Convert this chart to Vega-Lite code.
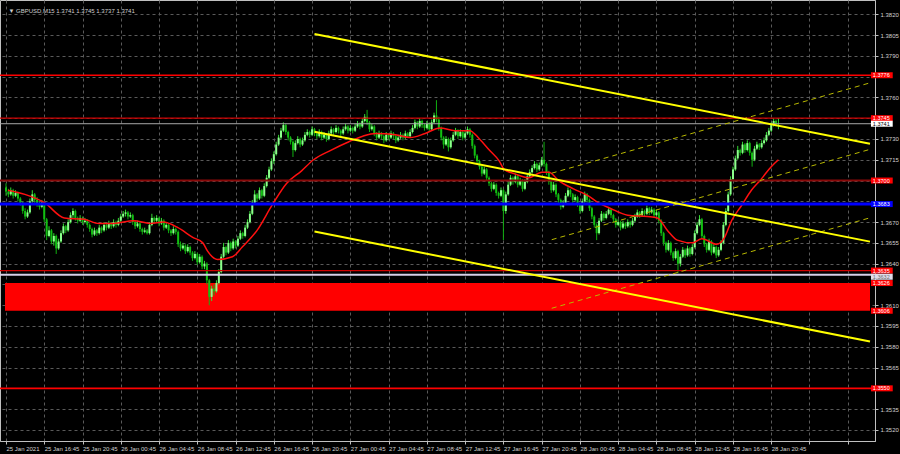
{
 "$schema": "https://vega.github.io/schema/vega-lite/v6.json",
 "width": 875,
 "height": 441,
 "autosize": {"type": "none"},
 "padding": {"left": 0, "top": 0, "right": 25, "bottom": 13},
 "background": "#000000",
 "config": {
  "view": {"stroke": "#c0c0c0", "strokeWidth": 1},
  "axis": {"title": null, "labelFont": "Liberation Sans", "labelFontSize": 6, "labelColor": "#d0d0d0", "gridColor": "#5a5a5a", "gridDash": [3, 3], "gridWidth": 1, "domainColor": "#c0c0c0", "tickColor": "#c0c0c0", "tickSize": 3, "labelOverlap": false, "labelBound": false, "labelFlush": false}
 },
 "datasets": {
  "zone": [{"lo": 1.3606, "hi": 1.3626}],
  "levels": [
   {"p": 1.3776, "k": "red"},
   {"p": 1.3745, "k": "red2"},
   {"p": 1.3741, "k": "price"},
   {"p": 1.3700, "k": "dark"},
   {"p": 1.3683, "k": "blue"},
   {"p": 1.3635, "k": "red2"},
   {"p": 1.3632, "k": "white"},
   {"p": 1.3550, "k": "red"}
  ],
  "tags": [
   {"p": 1.3776, "t": "1.3776", "k": "red"},
   {"p": 1.3745, "t": "1.3745", "k": "red"},
   {"p": 1.3741, "t": "1.3741", "k": "price"},
   {"p": 1.3700, "t": "1.3700", "k": "red"},
   {"p": 1.3683, "t": "1.3683", "k": "blue"},
   {"p": 1.3635, "t": "1.3635", "k": "red"},
   {"p": 1.3632, "t": "1.3632", "k": "white"},
   {"p": 1.3626, "t": "1.3626", "k": "red"},
   {"p": 1.3606, "t": "1.3606", "k": "red"},
   {"p": 1.3550, "t": "1.3550", "k": "red"}
  ],
  "channel": [
   {"g": "a", "i": 129, "p": 1.38058}, {"g": "a", "i": 361.3, "p": 1.37265},
   {"g": "b", "i": 129, "p": 1.37352}, {"g": "b", "i": 361.3, "p": 1.36559},
   {"g": "c", "i": 129, "p": 1.36632}, {"g": "c", "i": 361.3, "p": 1.35838}
  ],
  "dashed": [
   {"g": "d", "i": 228.2, "p": 1.37053}, {"g": "d", "i": 361.3, "p": 1.37705},
   {"g": "e", "i": 228.2, "p": 1.36573}, {"g": "e", "i": 361.3, "p": 1.37225},
   {"g": "f", "i": 228.2, "p": 1.36078}, {"g": "f", "i": 361.3, "p": 1.36731}
  ],
  "ma": [
   {"i": 0.8, "m": 1.3693}, {"i": 7.9, "m": 1.3690}, {"i": 16.1, "m": 1.3684}, {"i": 24.4, "m": 1.3673},
   {"i": 32.7, "m": 1.3672}, {"i": 38.9, "m": 1.3669}, {"i": 45.1, "m": 1.3669}, {"i": 53.3, "m": 1.3671},
   {"i": 60.4, "m": 1.3669}, {"i": 65.7, "m": 1.3670}, {"i": 71.9, "m": 1.3666}, {"i": 78.1, "m": 1.3659},
   {"i": 82.3, "m": 1.3655}, {"i": 84.3, "m": 1.3649}, {"i": 88.5, "m": 1.3643}, {"i": 94.7, "m": 1.3645},
   {"i": 98.8, "m": 1.3652}, {"i": 105.0, "m": 1.3664}, {"i": 111.2, "m": 1.3682}, {"i": 117.4, "m": 1.3698},
   {"i": 123.6, "m": 1.3707}, {"i": 128.6, "m": 1.3715}, {"i": 136.0, "m": 1.3722}, {"i": 143.4, "m": 1.3728},
   {"i": 149.2, "m": 1.3732}, {"i": 154.6, "m": 1.3734}, {"i": 162.9, "m": 1.3733}, {"i": 169.1, "m": 1.3731},
   {"i": 175.3, "m": 1.3734}, {"i": 181.5, "m": 1.3738}, {"i": 187.7, "m": 1.3736}, {"i": 193.9, "m": 1.3736},
   {"i": 198.0, "m": 1.3730}, {"i": 202.1, "m": 1.3722}, {"i": 206.3, "m": 1.3714}, {"i": 208.3, "m": 1.3708},
   {"i": 212.5, "m": 1.3705}, {"i": 218.7, "m": 1.3702}, {"i": 224.1, "m": 1.3706}, {"i": 227.0, "m": 1.3706},
   {"i": 231.1, "m": 1.3700}, {"i": 237.3, "m": 1.3694}, {"i": 243.5, "m": 1.3689}, {"i": 247.6, "m": 1.3684},
   {"i": 252.6, "m": 1.3680}, {"i": 260.0, "m": 1.3675}, {"i": 268.3, "m": 1.3674}, {"i": 272.4, "m": 1.3673},
   {"i": 276.6, "m": 1.3664}, {"i": 280.7, "m": 1.3657}, {"i": 286.9, "m": 1.3655}, {"i": 291.0, "m": 1.3658},
   {"i": 297.2, "m": 1.3654}, {"i": 300.5, "m": 1.3659}, {"i": 303.4, "m": 1.3671}, {"i": 307.6, "m": 1.3682},
   {"i": 311.7, "m": 1.3693}, {"i": 315.8, "m": 1.3701}, {"i": 320.0, "m": 1.3710}, {"i": 323.0, "m": 1.3715}
  ],
  "bars": [
   {"i":0,"o":1.3695,"h":1.3698,"l":1.3689,"c":1.3692},
   {"i":1,"o":1.3692,"h":1.3694,"l":1.3688,"c":1.3690},
   {"i":2,"o":1.3690,"h":1.3695,"l":1.3689,"c":1.3693},
   {"i":3,"o":1.3693,"h":1.3694,"l":1.3687,"c":1.3689},
   {"i":4,"o":1.3689,"h":1.3693,"l":1.3688,"c":1.3691},
   {"i":5,"o":1.3691,"h":1.3692,"l":1.3685,"c":1.3687},
   {"i":6,"o":1.3687,"h":1.3688,"l":1.3682,"c":1.3684},
   {"i":7,"o":1.3684,"h":1.3685,"l":1.3676,"c":1.3678},
   {"i":8,"o":1.3678,"h":1.3680,"l":1.3672,"c":1.3674},
   {"i":9,"o":1.3674,"h":1.3679,"l":1.3673,"c":1.3677},
   {"i":10,"o":1.3677,"h":1.3687,"l":1.3676,"c":1.3685},
   {"i":11,"o":1.3685,"h":1.3693,"l":1.3684,"c":1.3690},
   {"i":12,"o":1.3690,"h":1.3691,"l":1.3684,"c":1.3686},
   {"i":13,"o":1.3686,"h":1.3688,"l":1.3681,"c":1.3683},
   {"i":14,"o":1.3683,"h":1.3685,"l":1.3679,"c":1.3681},
   {"i":15,"o":1.3681,"h":1.3686,"l":1.3680,"c":1.3684},
   {"i":16,"o":1.3684,"h":1.3685,"l":1.3670,"c":1.3672},
   {"i":17,"o":1.3672,"h":1.3673,"l":1.3657,"c":1.3660},
   {"i":18,"o":1.3660,"h":1.3667,"l":1.3659,"c":1.3664},
   {"i":19,"o":1.3664,"h":1.3665,"l":1.3654,"c":1.3656},
   {"i":20,"o":1.3656,"h":1.3662,"l":1.3653,"c":1.3660},
   {"i":21,"o":1.3660,"h":1.3661,"l":1.3647,"c":1.3651},
   {"i":22,"o":1.3651,"h":1.3658,"l":1.3650,"c":1.3656},
   {"i":23,"o":1.3656,"h":1.3664,"l":1.3655,"c":1.3662},
   {"i":24,"o":1.3662,"h":1.3669,"l":1.3661,"c":1.3667},
   {"i":25,"o":1.3667,"h":1.3668,"l":1.3662,"c":1.3664},
   {"i":26,"o":1.3664,"h":1.3672,"l":1.3663,"c":1.3670},
   {"i":27,"o":1.3670,"h":1.3677,"l":1.3669,"c":1.3675},
   {"i":28,"o":1.3675,"h":1.3680,"l":1.3673,"c":1.3678},
   {"i":29,"o":1.3678,"h":1.3679,"l":1.3671,"c":1.3673},
   {"i":30,"o":1.3673,"h":1.3674,"l":1.3669,"c":1.3671},
   {"i":31,"o":1.3671,"h":1.3675,"l":1.3670,"c":1.3673},
   {"i":32,"o":1.3673,"h":1.3674,"l":1.3668,"c":1.3670},
   {"i":33,"o":1.3670,"h":1.3673,"l":1.3669,"c":1.3671},
   {"i":34,"o":1.3671,"h":1.3672,"l":1.3666,"c":1.3668},
   {"i":35,"o":1.3668,"h":1.3669,"l":1.3663,"c":1.3665},
   {"i":36,"o":1.3665,"h":1.3666,"l":1.3659,"c":1.3661},
   {"i":37,"o":1.3661,"h":1.3666,"l":1.3660,"c":1.3664},
   {"i":38,"o":1.3664,"h":1.3665,"l":1.3660,"c":1.3662},
   {"i":39,"o":1.3662,"h":1.3668,"l":1.3661,"c":1.3666},
   {"i":40,"o":1.3666,"h":1.3667,"l":1.3662,"c":1.3664},
   {"i":41,"o":1.3664,"h":1.3670,"l":1.3663,"c":1.3668},
   {"i":42,"o":1.3668,"h":1.3669,"l":1.3664,"c":1.3666},
   {"i":43,"o":1.3666,"h":1.3671,"l":1.3665,"c":1.3669},
   {"i":44,"o":1.3669,"h":1.3670,"l":1.3665,"c":1.3667},
   {"i":45,"o":1.3667,"h":1.3672,"l":1.3666,"c":1.3670},
   {"i":46,"o":1.3670,"h":1.3671,"l":1.3666,"c":1.3668},
   {"i":47,"o":1.3668,"h":1.3673,"l":1.3667,"c":1.3671},
   {"i":48,"o":1.3671,"h":1.3676,"l":1.3670,"c":1.3674},
   {"i":49,"o":1.3674,"h":1.3678,"l":1.3673,"c":1.3676},
   {"i":50,"o":1.3676,"h":1.3679,"l":1.3674,"c":1.3677},
   {"i":51,"o":1.3677,"h":1.3678,"l":1.3672,"c":1.3674},
   {"i":52,"o":1.3674,"h":1.3677,"l":1.3673,"c":1.3675},
   {"i":53,"o":1.3675,"h":1.3676,"l":1.3668,"c":1.3670},
   {"i":54,"o":1.3670,"h":1.3671,"l":1.3665,"c":1.3667},
   {"i":55,"o":1.3667,"h":1.3671,"l":1.3666,"c":1.3669},
   {"i":56,"o":1.3669,"h":1.3670,"l":1.3663,"c":1.3665},
   {"i":57,"o":1.3665,"h":1.3666,"l":1.3661,"c":1.3663},
   {"i":58,"o":1.3663,"h":1.3666,"l":1.3662,"c":1.3664},
   {"i":59,"o":1.3664,"h":1.3665,"l":1.3661,"c":1.3662},
   {"i":60,"o":1.3662,"h":1.3670,"l":1.3661,"c":1.3668},
   {"i":61,"o":1.3668,"h":1.3676,"l":1.3667,"c":1.3673},
   {"i":62,"o":1.3673,"h":1.3674,"l":1.3669,"c":1.3671},
   {"i":63,"o":1.3671,"h":1.3675,"l":1.3670,"c":1.3673},
   {"i":64,"o":1.3673,"h":1.3674,"l":1.3667,"c":1.3669},
   {"i":65,"o":1.3669,"h":1.3673,"l":1.3668,"c":1.3671},
   {"i":66,"o":1.3671,"h":1.3672,"l":1.3664,"c":1.3666},
   {"i":67,"o":1.3666,"h":1.3670,"l":1.3665,"c":1.3668},
   {"i":68,"o":1.3668,"h":1.3669,"l":1.3662,"c":1.3664},
   {"i":69,"o":1.3664,"h":1.3665,"l":1.3660,"c":1.3662},
   {"i":70,"o":1.3662,"h":1.3667,"l":1.3661,"c":1.3665},
   {"i":71,"o":1.3665,"h":1.3666,"l":1.3661,"c":1.3663},
   {"i":72,"o":1.3663,"h":1.3664,"l":1.3652,"c":1.3654},
   {"i":73,"o":1.3654,"h":1.3656,"l":1.3649,"c":1.3651},
   {"i":74,"o":1.3651,"h":1.3655,"l":1.3650,"c":1.3653},
   {"i":75,"o":1.3653,"h":1.3654,"l":1.3647,"c":1.3649},
   {"i":76,"o":1.3649,"h":1.3654,"l":1.3648,"c":1.3652},
   {"i":77,"o":1.3652,"h":1.3653,"l":1.3646,"c":1.3648},
   {"i":78,"o":1.3648,"h":1.3649,"l":1.3642,"c":1.3644},
   {"i":79,"o":1.3644,"h":1.3649,"l":1.3643,"c":1.3647},
   {"i":80,"o":1.3647,"h":1.3648,"l":1.3639,"c":1.3641},
   {"i":81,"o":1.3641,"h":1.3647,"l":1.3640,"c":1.3645},
   {"i":82,"o":1.3645,"h":1.3646,"l":1.3636,"c":1.3638},
   {"i":83,"o":1.3638,"h":1.3642,"l":1.3636,"c":1.3640},
   {"i":84,"o":1.3640,"h":1.3641,"l":1.3625,"c":1.3628},
   {"i":85,"o":1.3628,"h":1.3629,"l":1.3610,"c":1.3616},
   {"i":86,"o":1.3616,"h":1.3624,"l":1.3613,"c":1.3622},
   {"i":87,"o":1.3622,"h":1.3625,"l":1.3617,"c":1.3620},
   {"i":88,"o":1.3620,"h":1.3628,"l":1.3619,"c":1.3626},
   {"i":89,"o":1.3626,"h":1.3636,"l":1.3625,"c":1.3634},
   {"i":90,"o":1.3634,"h":1.3647,"l":1.3633,"c":1.3645},
   {"i":91,"o":1.3645,"h":1.3655,"l":1.3644,"c":1.3652},
   {"i":92,"o":1.3652,"h":1.3653,"l":1.3646,"c":1.3648},
   {"i":93,"o":1.3648,"h":1.3657,"l":1.3647,"c":1.3655},
   {"i":94,"o":1.3655,"h":1.3656,"l":1.3649,"c":1.3651},
   {"i":95,"o":1.3651,"h":1.3658,"l":1.3650,"c":1.3656},
   {"i":96,"o":1.3656,"h":1.3657,"l":1.3651,"c":1.3653},
   {"i":97,"o":1.3653,"h":1.3660,"l":1.3652,"c":1.3658},
   {"i":98,"o":1.3658,"h":1.3664,"l":1.3657,"c":1.3662},
   {"i":99,"o":1.3662,"h":1.3663,"l":1.3658,"c":1.3660},
   {"i":100,"o":1.3660,"h":1.3668,"l":1.3659,"c":1.3666},
   {"i":101,"o":1.3666,"h":1.3672,"l":1.3665,"c":1.3670},
   {"i":102,"o":1.3670,"h":1.3678,"l":1.3669,"c":1.3676},
   {"i":103,"o":1.3676,"h":1.3686,"l":1.3675,"c":1.3684},
   {"i":104,"o":1.3684,"h":1.3693,"l":1.3683,"c":1.3690},
   {"i":105,"o":1.3690,"h":1.3691,"l":1.3685,"c":1.3687},
   {"i":106,"o":1.3687,"h":1.3695,"l":1.3686,"c":1.3693},
   {"i":107,"o":1.3693,"h":1.3694,"l":1.3687,"c":1.3689},
   {"i":108,"o":1.3689,"h":1.3698,"l":1.3688,"c":1.3696},
   {"i":109,"o":1.3696,"h":1.3704,"l":1.3695,"c":1.3702},
   {"i":110,"o":1.3702,"h":1.3710,"l":1.3701,"c":1.3708},
   {"i":111,"o":1.3708,"h":1.3716,"l":1.3707,"c":1.3714},
   {"i":112,"o":1.3714,"h":1.3721,"l":1.3712,"c":1.3719},
   {"i":113,"o":1.3719,"h":1.3728,"l":1.3718,"c":1.3726},
   {"i":114,"o":1.3726,"h":1.3733,"l":1.3725,"c":1.3731},
   {"i":115,"o":1.3731,"h":1.3738,"l":1.3730,"c":1.3736},
   {"i":116,"o":1.3736,"h":1.3742,"l":1.3735,"c":1.3740},
   {"i":117,"o":1.3740,"h":1.3741,"l":1.3733,"c":1.3735},
   {"i":118,"o":1.3735,"h":1.3736,"l":1.3729,"c":1.3731},
   {"i":119,"o":1.3731,"h":1.3732,"l":1.3726,"c":1.3728},
   {"i":120,"o":1.3728,"h":1.3729,"l":1.3717,"c":1.3722},
   {"i":121,"o":1.3722,"h":1.3729,"l":1.3721,"c":1.3727},
   {"i":122,"o":1.3727,"h":1.3732,"l":1.3726,"c":1.3730},
   {"i":123,"o":1.3730,"h":1.3731,"l":1.3724,"c":1.3726},
   {"i":124,"o":1.3726,"h":1.3731,"l":1.3725,"c":1.3729},
   {"i":125,"o":1.3729,"h":1.3735,"l":1.3728,"c":1.3733},
   {"i":126,"o":1.3733,"h":1.3737,"l":1.3732,"c":1.3735},
   {"i":127,"o":1.3735,"h":1.3736,"l":1.3731,"c":1.3733},
   {"i":128,"o":1.3733,"h":1.3739,"l":1.3732,"c":1.3737},
   {"i":129,"o":1.3737,"h":1.3738,"l":1.3732,"c":1.3734},
   {"i":130,"o":1.3734,"h":1.3735,"l":1.3730,"c":1.3732},
   {"i":131,"o":1.3732,"h":1.3737,"l":1.3731,"c":1.3735},
   {"i":132,"o":1.3735,"h":1.3736,"l":1.3729,"c":1.3731},
   {"i":133,"o":1.3731,"h":1.3735,"l":1.3730,"c":1.3733},
   {"i":134,"o":1.3733,"h":1.3734,"l":1.3728,"c":1.3730},
   {"i":135,"o":1.3730,"h":1.3736,"l":1.3729,"c":1.3734},
   {"i":136,"o":1.3734,"h":1.3739,"l":1.3733,"c":1.3737},
   {"i":137,"o":1.3737,"h":1.3738,"l":1.3733,"c":1.3735},
   {"i":138,"o":1.3735,"h":1.3740,"l":1.3734,"c":1.3738},
   {"i":139,"o":1.3738,"h":1.3739,"l":1.3734,"c":1.3736},
   {"i":140,"o":1.3736,"h":1.3737,"l":1.3732,"c":1.3734},
   {"i":141,"o":1.3734,"h":1.3739,"l":1.3733,"c":1.3737},
   {"i":142,"o":1.3737,"h":1.3741,"l":1.3736,"c":1.3739},
   {"i":143,"o":1.3739,"h":1.3740,"l":1.3734,"c":1.3736},
   {"i":144,"o":1.3736,"h":1.3740,"l":1.3735,"c":1.3738},
   {"i":145,"o":1.3738,"h":1.3739,"l":1.3734,"c":1.3736},
   {"i":146,"o":1.3736,"h":1.3741,"l":1.3735,"c":1.3739},
   {"i":147,"o":1.3739,"h":1.3743,"l":1.3738,"c":1.3741},
   {"i":148,"o":1.3741,"h":1.3742,"l":1.3737,"c":1.3739},
   {"i":149,"o":1.3739,"h":1.3745,"l":1.3738,"c":1.3743},
   {"i":150,"o":1.3743,"h":1.3748,"l":1.3742,"c":1.3746},
   {"i":151,"o":1.3746,"h":1.3751,"l":1.3740,"c":1.3742},
   {"i":152,"o":1.3742,"h":1.3743,"l":1.3735,"c":1.3737},
   {"i":153,"o":1.3737,"h":1.3741,"l":1.3736,"c":1.3739},
   {"i":154,"o":1.3739,"h":1.3740,"l":1.3732,"c":1.3734},
   {"i":155,"o":1.3734,"h":1.3735,"l":1.3729,"c":1.3731},
   {"i":156,"o":1.3731,"h":1.3736,"l":1.3730,"c":1.3734},
   {"i":157,"o":1.3734,"h":1.3735,"l":1.3730,"c":1.3732},
   {"i":158,"o":1.3732,"h":1.3733,"l":1.3727,"c":1.3729},
   {"i":159,"o":1.3729,"h":1.3735,"l":1.3728,"c":1.3733},
   {"i":160,"o":1.3733,"h":1.3734,"l":1.3729,"c":1.3731},
   {"i":161,"o":1.3731,"h":1.3736,"l":1.3730,"c":1.3734},
   {"i":162,"o":1.3734,"h":1.3735,"l":1.3730,"c":1.3732},
   {"i":163,"o":1.3732,"h":1.3733,"l":1.3727,"c":1.3729},
   {"i":164,"o":1.3729,"h":1.3733,"l":1.3728,"c":1.3731},
   {"i":165,"o":1.3731,"h":1.3735,"l":1.3730,"c":1.3733},
   {"i":166,"o":1.3733,"h":1.3734,"l":1.3729,"c":1.3731},
   {"i":167,"o":1.3731,"h":1.3736,"l":1.3730,"c":1.3734},
   {"i":168,"o":1.3734,"h":1.3735,"l":1.3731,"c":1.3732},
   {"i":169,"o":1.3732,"h":1.3737,"l":1.3731,"c":1.3735},
   {"i":170,"o":1.3735,"h":1.3740,"l":1.3734,"c":1.3738},
   {"i":171,"o":1.3738,"h":1.3744,"l":1.3737,"c":1.3742},
   {"i":172,"o":1.3742,"h":1.3743,"l":1.3737,"c":1.3739},
   {"i":173,"o":1.3739,"h":1.3745,"l":1.3738,"c":1.3743},
   {"i":174,"o":1.3743,"h":1.3744,"l":1.3738,"c":1.3740},
   {"i":175,"o":1.3740,"h":1.3741,"l":1.3736,"c":1.3738},
   {"i":176,"o":1.3738,"h":1.3743,"l":1.3737,"c":1.3741},
   {"i":177,"o":1.3741,"h":1.3742,"l":1.3735,"c":1.3737},
   {"i":178,"o":1.3737,"h":1.3744,"l":1.3736,"c":1.3742},
   {"i":179,"o":1.3742,"h":1.3749,"l":1.3741,"c":1.3747},
   {"i":180,"o":1.3747,"h":1.3758,"l":1.3742,"c":1.3744},
   {"i":181,"o":1.3744,"h":1.3746,"l":1.3736,"c":1.3738},
   {"i":182,"o":1.3738,"h":1.3739,"l":1.3729,"c":1.3731},
   {"i":183,"o":1.3731,"h":1.3732,"l":1.3723,"c":1.3726},
   {"i":184,"o":1.3726,"h":1.3732,"l":1.3725,"c":1.3730},
   {"i":185,"o":1.3730,"h":1.3731,"l":1.3721,"c":1.3724},
   {"i":186,"o":1.3724,"h":1.3731,"l":1.3723,"c":1.3729},
   {"i":187,"o":1.3729,"h":1.3735,"l":1.3728,"c":1.3733},
   {"i":188,"o":1.3733,"h":1.3738,"l":1.3732,"c":1.3736},
   {"i":189,"o":1.3736,"h":1.3737,"l":1.3730,"c":1.3732},
   {"i":190,"o":1.3732,"h":1.3737,"l":1.3731,"c":1.3735},
   {"i":191,"o":1.3735,"h":1.3736,"l":1.3729,"c":1.3731},
   {"i":192,"o":1.3731,"h":1.3736,"l":1.3730,"c":1.3734},
   {"i":193,"o":1.3734,"h":1.3739,"l":1.3733,"c":1.3737},
   {"i":194,"o":1.3737,"h":1.3738,"l":1.3731,"c":1.3733},
   {"i":195,"o":1.3733,"h":1.3734,"l":1.3723,"c":1.3725},
   {"i":196,"o":1.3725,"h":1.3726,"l":1.3716,"c":1.3718},
   {"i":197,"o":1.3718,"h":1.3719,"l":1.3712,"c":1.3714},
   {"i":198,"o":1.3714,"h":1.3715,"l":1.3708,"c":1.3710},
   {"i":199,"o":1.3710,"h":1.3711,"l":1.3703,"c":1.3705},
   {"i":200,"o":1.3705,"h":1.3710,"l":1.3704,"c":1.3708},
   {"i":201,"o":1.3708,"h":1.3709,"l":1.3700,"c":1.3702},
   {"i":202,"o":1.3702,"h":1.3703,"l":1.3696,"c":1.3698},
   {"i":203,"o":1.3698,"h":1.3699,"l":1.3692,"c":1.3694},
   {"i":204,"o":1.3694,"h":1.3699,"l":1.3693,"c":1.3697},
   {"i":205,"o":1.3697,"h":1.3698,"l":1.3689,"c":1.3691},
   {"i":206,"o":1.3691,"h":1.3692,"l":1.3687,"c":1.3689},
   {"i":207,"o":1.3689,"h":1.3695,"l":1.3688,"c":1.3693},
   {"i":208,"o":1.3693,"h":1.3694,"l":1.3657,"c":1.3678},
   {"i":209,"o":1.3678,"h":1.3692,"l":1.3676,"c":1.3690},
   {"i":210,"o":1.3690,"h":1.3699,"l":1.3689,"c":1.3697},
   {"i":211,"o":1.3697,"h":1.3704,"l":1.3696,"c":1.3702},
   {"i":212,"o":1.3702,"h":1.3703,"l":1.3697,"c":1.3699},
   {"i":213,"o":1.3699,"h":1.3705,"l":1.3698,"c":1.3703},
   {"i":214,"o":1.3703,"h":1.3704,"l":1.3695,"c":1.3697},
   {"i":215,"o":1.3697,"h":1.3702,"l":1.3696,"c":1.3700},
   {"i":216,"o":1.3700,"h":1.3701,"l":1.3692,"c":1.3694},
   {"i":217,"o":1.3694,"h":1.3701,"l":1.3693,"c":1.3699},
   {"i":218,"o":1.3699,"h":1.3705,"l":1.3698,"c":1.3703},
   {"i":219,"o":1.3703,"h":1.3708,"l":1.3702,"c":1.3706},
   {"i":220,"o":1.3706,"h":1.3711,"l":1.3705,"c":1.3709},
   {"i":221,"o":1.3709,"h":1.3714,"l":1.3708,"c":1.3712},
   {"i":222,"o":1.3712,"h":1.3713,"l":1.3706,"c":1.3708},
   {"i":223,"o":1.3708,"h":1.3713,"l":1.3707,"c":1.3711},
   {"i":224,"o":1.3711,"h":1.3717,"l":1.3710,"c":1.3715},
   {"i":225,"o":1.3715,"h":1.3728,"l":1.3710,"c":1.3712},
   {"i":226,"o":1.3712,"h":1.3713,"l":1.3704,"c":1.3706},
   {"i":227,"o":1.3706,"h":1.3707,"l":1.3697,"c":1.3699},
   {"i":228,"o":1.3699,"h":1.3700,"l":1.3691,"c":1.3693},
   {"i":229,"o":1.3693,"h":1.3699,"l":1.3692,"c":1.3697},
   {"i":230,"o":1.3697,"h":1.3698,"l":1.3688,"c":1.3690},
   {"i":231,"o":1.3690,"h":1.3691,"l":1.3684,"c":1.3686},
   {"i":232,"o":1.3686,"h":1.3687,"l":1.3679,"c":1.3681},
   {"i":233,"o":1.3681,"h":1.3686,"l":1.3680,"c":1.3684},
   {"i":234,"o":1.3684,"h":1.3691,"l":1.3683,"c":1.3689},
   {"i":235,"o":1.3689,"h":1.3695,"l":1.3688,"c":1.3693},
   {"i":236,"o":1.3693,"h":1.3694,"l":1.3688,"c":1.3690},
   {"i":237,"o":1.3690,"h":1.3691,"l":1.3684,"c":1.3686},
   {"i":238,"o":1.3686,"h":1.3690,"l":1.3685,"c":1.3688},
   {"i":239,"o":1.3688,"h":1.3689,"l":1.3681,"c":1.3683},
   {"i":240,"o":1.3683,"h":1.3684,"l":1.3676,"c":1.3678},
   {"i":241,"o":1.3678,"h":1.3687,"l":1.3677,"c":1.3685},
   {"i":242,"o":1.3685,"h":1.3692,"l":1.3684,"c":1.3690},
   {"i":243,"o":1.3690,"h":1.3691,"l":1.3684,"c":1.3686},
   {"i":244,"o":1.3686,"h":1.3687,"l":1.3678,"c":1.3680},
   {"i":245,"o":1.3680,"h":1.3681,"l":1.3672,"c":1.3674},
   {"i":246,"o":1.3674,"h":1.3675,"l":1.3666,"c":1.3668},
   {"i":247,"o":1.3668,"h":1.3669,"l":1.3657,"c":1.3662},
   {"i":248,"o":1.3662,"h":1.3673,"l":1.3661,"c":1.3671},
   {"i":249,"o":1.3671,"h":1.3678,"l":1.3670,"c":1.3676},
   {"i":250,"o":1.3676,"h":1.3677,"l":1.3671,"c":1.3673},
   {"i":251,"o":1.3673,"h":1.3678,"l":1.3672,"c":1.3676},
   {"i":252,"o":1.3676,"h":1.3681,"l":1.3675,"c":1.3679},
   {"i":253,"o":1.3679,"h":1.3680,"l":1.3673,"c":1.3675},
   {"i":254,"o":1.3675,"h":1.3676,"l":1.3670,"c":1.3672},
   {"i":255,"o":1.3672,"h":1.3673,"l":1.3666,"c":1.3668},
   {"i":256,"o":1.3668,"h":1.3672,"l":1.3667,"c":1.3670},
   {"i":257,"o":1.3670,"h":1.3671,"l":1.3664,"c":1.3666},
   {"i":258,"o":1.3666,"h":1.3671,"l":1.3665,"c":1.3669},
   {"i":259,"o":1.3669,"h":1.3670,"l":1.3665,"c":1.3667},
   {"i":260,"o":1.3667,"h":1.3672,"l":1.3666,"c":1.3670},
   {"i":261,"o":1.3670,"h":1.3671,"l":1.3666,"c":1.3668},
   {"i":262,"o":1.3668,"h":1.3673,"l":1.3667,"c":1.3671},
   {"i":263,"o":1.3671,"h":1.3676,"l":1.3670,"c":1.3674},
   {"i":264,"o":1.3674,"h":1.3679,"l":1.3673,"c":1.3677},
   {"i":265,"o":1.3677,"h":1.3678,"l":1.3673,"c":1.3675},
   {"i":266,"o":1.3675,"h":1.3680,"l":1.3674,"c":1.3678},
   {"i":267,"o":1.3678,"h":1.3679,"l":1.3674,"c":1.3676},
   {"i":268,"o":1.3676,"h":1.3682,"l":1.3675,"c":1.3680},
   {"i":269,"o":1.3680,"h":1.3681,"l":1.3675,"c":1.3677},
   {"i":270,"o":1.3677,"h":1.3681,"l":1.3676,"c":1.3679},
   {"i":271,"o":1.3679,"h":1.3680,"l":1.3673,"c":1.3675},
   {"i":272,"o":1.3675,"h":1.3679,"l":1.3674,"c":1.3677},
   {"i":273,"o":1.3677,"h":1.3678,"l":1.3669,"c":1.3671},
   {"i":274,"o":1.3671,"h":1.3672,"l":1.3660,"c":1.3662},
   {"i":275,"o":1.3662,"h":1.3663,"l":1.3653,"c":1.3655},
   {"i":276,"o":1.3655,"h":1.3656,"l":1.3648,"c":1.3650},
   {"i":277,"o":1.3650,"h":1.3657,"l":1.3649,"c":1.3655},
   {"i":278,"o":1.3655,"h":1.3656,"l":1.3646,"c":1.3648},
   {"i":279,"o":1.3648,"h":1.3649,"l":1.3642,"c":1.3644},
   {"i":280,"o":1.3644,"h":1.3651,"l":1.3643,"c":1.3649},
   {"i":281,"o":1.3649,"h":1.3650,"l":1.3633,"c":1.3640},
   {"i":282,"o":1.3640,"h":1.3647,"l":1.3638,"c":1.3645},
   {"i":283,"o":1.3645,"h":1.3652,"l":1.3644,"c":1.3650},
   {"i":284,"o":1.3650,"h":1.3651,"l":1.3644,"c":1.3646},
   {"i":285,"o":1.3646,"h":1.3653,"l":1.3645,"c":1.3651},
   {"i":286,"o":1.3651,"h":1.3652,"l":1.3645,"c":1.3647},
   {"i":287,"o":1.3647,"h":1.3654,"l":1.3646,"c":1.3652},
   {"i":288,"o":1.3652,"h":1.3664,"l":1.3651,"c":1.3662},
   {"i":289,"o":1.3662,"h":1.3670,"l":1.3661,"c":1.3668},
   {"i":290,"o":1.3668,"h":1.3675,"l":1.3667,"c":1.3672},
   {"i":291,"o":1.3672,"h":1.3673,"l":1.3658,"c":1.3660},
   {"i":292,"o":1.3660,"h":1.3661,"l":1.3652,"c":1.3654},
   {"i":293,"o":1.3654,"h":1.3655,"l":1.3648,"c":1.3650},
   {"i":294,"o":1.3650,"h":1.3658,"l":1.3649,"c":1.3656},
   {"i":295,"o":1.3656,"h":1.3657,"l":1.3646,"c":1.3648},
   {"i":296,"o":1.3648,"h":1.3654,"l":1.3647,"c":1.3652},
   {"i":297,"o":1.3652,"h":1.3653,"l":1.3644,"c":1.3646},
   {"i":298,"o":1.3646,"h":1.3652,"l":1.3645,"c":1.3650},
   {"i":299,"o":1.3650,"h":1.3657,"l":1.3649,"c":1.3655},
   {"i":300,"o":1.3655,"h":1.3670,"l":1.3654,"c":1.3668},
   {"i":301,"o":1.3668,"h":1.3680,"l":1.3667,"c":1.3678},
   {"i":302,"o":1.3678,"h":1.3692,"l":1.3677,"c":1.3690},
   {"i":303,"o":1.3690,"h":1.3703,"l":1.3689,"c":1.3701},
   {"i":304,"o":1.3701,"h":1.3710,"l":1.3700,"c":1.3708},
   {"i":305,"o":1.3708,"h":1.3718,"l":1.3707,"c":1.3716},
   {"i":306,"o":1.3716,"h":1.3725,"l":1.3715,"c":1.3722},
   {"i":307,"o":1.3722,"h":1.3723,"l":1.3718,"c":1.3720},
   {"i":308,"o":1.3720,"h":1.3728,"l":1.3719,"c":1.3726},
   {"i":309,"o":1.3726,"h":1.3727,"l":1.3720,"c":1.3722},
   {"i":310,"o":1.3722,"h":1.3729,"l":1.3721,"c":1.3727},
   {"i":311,"o":1.3727,"h":1.3728,"l":1.3718,"c":1.3720},
   {"i":312,"o":1.3720,"h":1.3721,"l":1.3710,"c":1.3715},
   {"i":313,"o":1.3715,"h":1.3725,"l":1.3714,"c":1.3723},
   {"i":314,"o":1.3723,"h":1.3728,"l":1.3722,"c":1.3726},
   {"i":315,"o":1.3726,"h":1.3727,"l":1.3722,"c":1.3724},
   {"i":316,"o":1.3724,"h":1.3729,"l":1.3723,"c":1.3727},
   {"i":317,"o":1.3727,"h":1.3731,"l":1.3726,"c":1.3729},
   {"i":318,"o":1.3729,"h":1.3735,"l":1.3728,"c":1.3733},
   {"i":319,"o":1.3733,"h":1.3738,"l":1.3732,"c":1.3736},
   {"i":320,"o":1.3736,"h":1.3742,"l":1.3735,"c":1.3740},
   {"i":321,"o":1.3740,"h":1.3745,"l":1.3739,"c":1.3743},
   {"i":322,"o":1.3743,"h":1.3744,"l":1.3739,"c":1.3741},
   {"i":323,"o":1.3741,"h":1.3745,"l":1.3737,"c":1.3741}
  ]
 },
 "layer": [
  {
   "data": {"name": "zone"},
   "mark": {"type": "rect", "color": "#ff0000"},
   "encoding": {
    "x": {"datum": -0.413, "type": "quantitative", "scale": {"domain": [-0.413, 361.3], "nice": false, "zero": false},
     "axis": {"values": [0, 16, 32, 48, 64, 80, 96, 112, 128, 144, 160, 176, 192, 208, 224, 240, 256, 272, 288, 304, 320, 336, 352], "tickCount": 200, "grid": true, "labelOverlap": false, "labelFlush": false, "labelAlign": "left", "labelPadding": 1, "labelBaseline": "top",
      "labelExpr": "datum.value <= 320 ? ['25 Jan 2021','25 Jan 16:45','25 Jan 20:45','26 Jan 00:45','26 Jan 04:45','26 Jan 08:45','26 Jan 12:45','26 Jan 16:45','26 Jan 20:45','27 Jan 00:45','27 Jan 04:45','27 Jan 08:45','27 Jan 12:45','27 Jan 16:45','27 Jan 20:45','28 Jan 00:45','28 Jan 04:45','28 Jan 08:45','28 Jan 12:45','28 Jan 16:45','28 Jan 20:45'][round(datum.value/16)] : ''"}},
    "x2": {"datum": 361.3},
    "y": {"field": "lo", "type": "quantitative", "scale": {"domain": [1.35156, 1.38267], "nice": false, "zero": false},
     "axis": {"orient": "right", "values": [1.352, 1.3535, 1.355, 1.3565, 1.358, 1.3595, 1.361, 1.3625, 1.364, 1.3655, 1.367, 1.3685, 1.37, 1.3715, 1.373, 1.3745, 1.376, 1.3775, 1.379, 1.3805, 1.382], "tickCount": 200, "grid": true, "labelOverlap": false, "labelFlush": false, "labelAlign": "left", "labelPadding": 2, "labelBaseline": "middle",
      "labelExpr": "indexof(['1.3775','1.3745','1.3700','1.3685','1.3625','1.3550'], format(datum.value, '.4f')) >= 0 ? '' : format(datum.value, '.4f')"}},
    "y2": {"field": "hi"}
   }
  },
  {
   "data": {"name": "bars"},
   "mark": {"type": "rule", "strokeWidth": 1},
   "encoding": {
    "x": {"field": "i", "type": "quantitative"},
    "y": {"field": "l", "type": "quantitative"},
    "y2": {"field": "h"},
    "color": {"condition": {"test": "datum.c >= datum.o", "value": "#33dd33"}, "value": "#10b010"}
   }
  },
  {
   "data": {"name": "bars"},
   "mark": {"type": "bar", "size": 2},
   "encoding": {
    "x": {"field": "i", "type": "quantitative"},
    "y": {"field": "o", "type": "quantitative"},
    "y2": {"field": "c"},
    "color": {"condition": {"test": "datum.c >= datum.o", "value": "#8cff8c"}, "value": "#12c012"}
   }
  },
  {
   "data": {"name": "ma"},
   "mark": {"type": "line", "color": "#ff1010", "strokeWidth": 1.5, "interpolate": "monotone"},
   "encoding": {
    "x": {"field": "i", "type": "quantitative"},
    "y": {"field": "m", "type": "quantitative"}
   }
  },
  {
   "data": {"name": "levels"},
   "transform": [{"filter": "datum.k == 'red'"}],
   "mark": {"type": "rule", "color": "#ff0000", "strokeWidth": 1.6},
   "encoding": {"y": {"field": "p", "type": "quantitative"}}
  },
  {
   "data": {"name": "levels"},
   "transform": [{"filter": "datum.k == 'red2'"}],
   "mark": {"type": "rule", "color": "#d00000", "strokeWidth": 1.3},
   "encoding": {"y": {"field": "p", "type": "quantitative"}}
  },
  {
   "data": {"name": "levels"},
   "transform": [{"filter": "datum.k == 'dark'"}],
   "mark": {"type": "rule", "color": "#8b0a0a", "strokeWidth": 2},
   "encoding": {"y": {"field": "p", "type": "quantitative"}}
  },
  {
   "data": {"name": "levels"},
   "transform": [{"filter": "datum.k == 'price'"}],
   "mark": {"type": "rule", "color": "#a8a8a8", "strokeWidth": 1},
   "encoding": {"y": {"field": "p", "type": "quantitative"}}
  },
  {
   "data": {"name": "levels"},
   "transform": [{"filter": "datum.k == 'white'"}],
   "mark": {"type": "rule", "color": "#d8d0e8", "strokeWidth": 2},
   "encoding": {"y": {"field": "p", "type": "quantitative"}}
  },
  {
   "data": {"name": "levels"},
   "transform": [{"filter": "datum.k == 'blue'"}],
   "mark": {"type": "rule", "color": "#0000ff", "strokeWidth": 3},
   "encoding": {"y": {"field": "p", "type": "quantitative"}}
  },
  {
   "data": {"name": "dashed"},
   "mark": {"type": "line", "color": "#b8b800", "strokeWidth": 1, "strokeDash": [5, 4]},
   "encoding": {
    "x": {"field": "i", "type": "quantitative"},
    "y": {"field": "p", "type": "quantitative"},
    "detail": {"field": "g"}
   }
  },
  {
   "data": {"name": "channel"},
   "mark": {"type": "line", "color": "#ffff00", "strokeWidth": 2},
   "encoding": {
    "x": {"field": "i", "type": "quantitative"},
    "y": {"field": "p", "type": "quantitative"},
    "detail": {"field": "g"}
   }
  },
  {
   "data": {"name": "tags"},
   "transform": [{"filter": "datum.k != 'white'"}],
   "mark": {"type": "bar", "size": 6, "orient": "horizontal"},
   "encoding": {
    "x": {"datum": 361.7, "type": "quantitative"},
    "x2": {"datum": 370.8},
    "y": {"field": "p", "type": "quantitative"},
    "color": {"condition": [{"test": "datum.k == 'blue'", "value": "#0000ff"}, {"test": "datum.k == 'price'", "value": "#ffffff"}], "value": "#ff0000"}
   }
  },
  {
   "data": {"name": "tags"},
   "transform": [{"filter": "datum.k == 'white'"}],
   "mark": {"type": "bar", "size": 6, "orient": "horizontal", "yOffset": 2, "color": "#e0dcea"},
   "encoding": {
    "x": {"datum": 361.7, "type": "quantitative"},
    "x2": {"datum": 370.8},
    "y": {"field": "p", "type": "quantitative"}
   }
  },
  {
   "data": {"name": "tags"},
   "transform": [{"filter": "datum.k != 'white'"}],
   "mark": {"type": "text", "align": "left", "baseline": "middle", "font": "Liberation Sans", "fontSize": 5.5},
   "encoding": {
    "x": {"datum": 362.5, "type": "quantitative"},
    "y": {"field": "p", "type": "quantitative"},
    "text": {"field": "t"},
    "color": {"condition": {"test": "datum.k == 'price'", "value": "#000000"}, "value": "#ffffff"}
   }
  },
  {
   "data": {"name": "tags"},
   "transform": [{"filter": "datum.k == 'white'"}],
   "mark": {"type": "text", "align": "left", "baseline": "middle", "font": "Liberation Sans", "fontSize": 5.5, "dy": 2, "color": "#707070"},
   "encoding": {
    "x": {"datum": 362.5, "type": "quantitative"},
    "y": {"field": "p", "type": "quantitative"},
    "text": {"field": "t"}
   }
  },
  {
   "data": {"values": [{"t": "▼  GBPUSD,M15  1.3741 1.3745 1.3737 1.3741"}]},
   "mark": {"type": "text", "align": "left", "baseline": "middle", "font": "Liberation Sans", "fontSize": 6, "color": "#d0d0d0"},
   "encoding": {
    "x": {"datum": 1.0, "type": "quantitative"},
    "y": {"datum": 1.38225, "type": "quantitative"},
    "text": {"field": "t"}
   }
  }
 ]
}
